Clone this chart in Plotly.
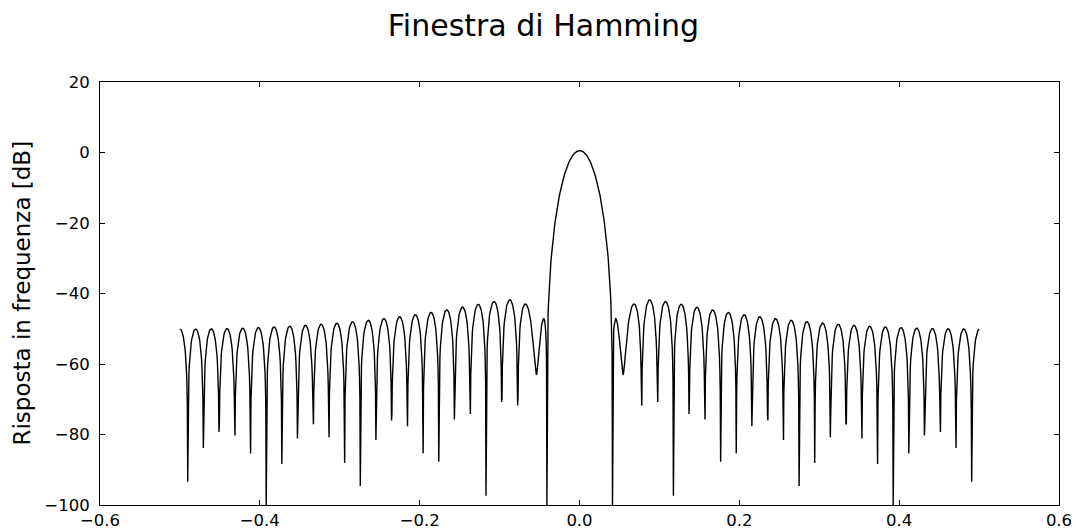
import numpy as np
import plotly.graph_objects as go

# Parameters of the plotted signal (Hamming window spectrum)
window_length = 51
nfft = 2048
norm = 25.5
clip_floor = -100

x_ticks = [-0.6, -0.4, -0.2, 0.0, 0.2, 0.4, 0.6]
y_ticks = [-100, -80, -60, -40, -20, 0, 20]

window = np.hamming(window_length)
A = np.fft.fft(window, nfft) / norm
mag = np.abs(np.fft.fftshift(A))
freq = np.linspace(-0.5, 0.5, len(A))
with np.errstate(divide="ignore"):
    response = 20 * np.log10(mag)
response = np.clip(response, clip_floor, 100)

fig = go.Figure()
fig.add_trace(go.Scatter(x=freq, y=response, mode="lines",
                         line=dict(color="black", width=1.4),
                         showlegend=False, hoverinfo="skip"))

axis_common = dict(showline=True, linecolor="black", linewidth=1, mirror="allticks",
                   ticks="inside", ticklen=5, tickcolor="black", showgrid=False,
                   zeroline=False, automargin=False,
                   tickfont=dict(size=16.5, color="black"))

fig.update_layout(
    width=1076, height=529,
    margin=dict(l=100, r=17, t=82, b=24),
    paper_bgcolor="white", plot_bgcolor="white",
    font=dict(family="DejaVu Sans", color="black"),
    title=dict(text="Finestra di Hamming", x=0.505, xanchor="center",
               y=0.9527, yanchor="middle", font=dict(size=30, color="black")),
    xaxis=dict(range=[-0.6, 0.6], tickvals=x_ticks, tickformat=".1f",
               ticklabelstandoff=0, **axis_common),
    yaxis=dict(range=[-100, 20], tickvals=y_ticks, ticklabelstandoff=6,
               **axis_common),
    annotations=[dict(text="Risposta in frequenza [dB]", textangle=-90,
                      xref="paper", yref="paper", x=(21 - 100) / 959, y=0.5,
                      xanchor="center", yanchor="middle", showarrow=False,
                      font=dict(size=23, color="black"))],
)

fig.write_html("out.html")
